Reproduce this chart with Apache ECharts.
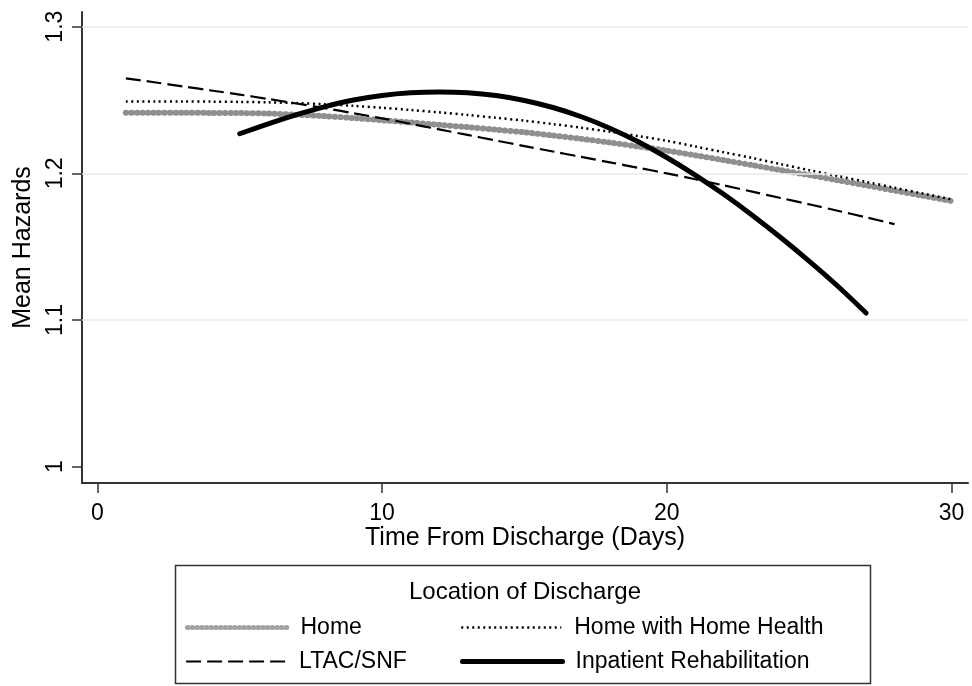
<!DOCTYPE html>
<html>
<head>
<meta charset="utf-8">
<script src="https://cdn.jsdelivr.net/npm/echarts@6/dist/echarts.min.js"></script>
<style>html,body{margin:0;padding:0;background:#fff;}#c{width:972px;height:686px;}</style>
</head>
<body>
<div id="c"></div>
<script>
// ---- data ----
const xTicks = [0, 10, 20, 30];
const yTicks = [1, 1.1, 1.2, 1.3];
const gridYs = [1.1, 1.2, 1.3];

const homeDays = [1,2,3,4,5,6,7,8,9,10,11,12,13,14,15,16,17,18,19,20,21,22,23,24,25,26,27,28,29,30];
const homeVals = [1.2413,1.2413,1.2413,1.2412,1.2411,1.2408,1.2400,1.2390,1.2377,1.2362,1.2347,1.2331,1.2315,1.2298,1.2280,1.2258,1.2235,1.2210,1.2183,1.2155,1.2123,1.2090,1.2056,1.2022,1.1988,1.1953,1.1918,1.1882,1.1847,1.1811];

const hhDays = [1,2,3,4,5,6,7,8,9,10,11,12,13,14,15,16,17,18,19,20,21,22,23,24,25,26,27,28,29,30];
const hhVals = [1.2490,1.2490,1.2490,1.2489,1.2487,1.2484,1.2479,1.2471,1.2460,1.2447,1.2432,1.2416,1.2398,1.2379,1.2359,1.2336,1.2311,1.2284,1.2254,1.2222,1.2183,1.2144,1.2105,1.2063,1.2022,1.1982,1.1942,1.1902,1.1862,1.1823];

const ltacDays = [1,2,3,4,5,6,7,8,9,10,11,12,13,14,15,16,17,18,19,20,21,22,23,24,25,26,27,28];
const ltacVals = [1.2648,1.2621,1.2593,1.2565,1.2537,1.2507,1.2476,1.2444,1.2410,1.2375,1.2338,1.2300,1.2262,1.2224,1.2186,1.2149,1.2112,1.2075,1.2038,1.2000,1.1960,1.1918,1.1875,1.1832,1.1789,1.1745,1.1700,1.1654];

const rehabDays = [5,6,7,8,9,10,11,12,13,14,15,16,17,18,19,20,21,22,23,24,25,26,27];
const rehabVals = [1.2270,1.2337,1.2400,1.2455,1.2500,1.2531,1.2549,1.2555,1.2550,1.2531,1.2497,1.2449,1.2386,1.2308,1.2215,1.2108,1.1988,1.1857,1.1715,1.1563,1.1402,1.1232,1.1048];

const seriesNames = ['Home', 'Home with Home Health', 'LTAC/SNF', 'Inpatient Rehabilitation'];
const legendTitle = 'Location of Discharge';
const xTitle = 'Time From Discharge (Days)';
const yTitle = 'Mean Hazards';

function pairs(xs, ys) { return xs.map((x, i) => [x, ys[i]]); }

const FONT = "'Liberation Sans', Arial, sans-serif";
const GRAY = '#8f8f8f';
const styles = [
  { color: GRAY, width: 6, type: [0.5, 5], cap: 'round' },
  { color: '#000', width: 2.5, type: [2, 3.5], cap: 'butt' },
  { color: '#000', width: 2.2, type: [15, 6], cap: 'butt' },
  { color: '#000', width: 5, type: 'solid', cap: 'round' }
];
const legendStyles = [
  { color: '#a3a3a3', width: 5, type: [0.5, 4.2], cap: 'round' },
  styles[1], styles[2], styles[3]
];

const chart = echarts.init(document.getElementById('c'));

function legendAt(i, left, top) {
  return {
    data: [seriesNames[i]], left: left, top: top, padding: 0, orient: 'horizontal',
    itemWidth: 100, itemHeight: 16, selectedMode: false,
    itemStyle: { opacity: 0, borderWidth: 0 },
    lineStyle: Object.assign({ opacity: 1 }, legendStyles[i]),
    textStyle: { fontFamily: FONT, fontSize: 23, color: '#000', padding: [0, 0, 0, 8] }
  };
}

chart.setOption({
  animation: false,
  backgroundColor: '#fff',
  grid: { left: 82, right: 4, top: 12, bottom: 203, containLabel: false },
  xAxis: {
    type: 'value', min: -0.54, max: 30.58,
    name: xTitle, nameLocation: 'middle', nameGap: 43, nameMoveOverlap: false,
    nameTextStyle: { fontFamily: FONT, fontSize: 25, color: '#000' },
    axisLine: { show: true, onZero: false, lineStyle: { color: '#333', width: 2 } },
    axisTick: { show: true, customValues: xTicks, length: 10, lineStyle: { color: '#333', width: 1.5 } },
    axisLabel: { customValues: xTicks, fontFamily: FONT, fontSize: 23, color: '#000', margin: 19 },
    splitLine: { show: false }
  },
  yAxis: {
    type: 'value', min: 0.9889, max: 1.31,
    name: yTitle, nameLocation: 'middle', nameGap: 46, nameRotate: 90, nameMoveOverlap: false,
    nameTextStyle: { fontFamily: FONT, fontSize: 25, color: '#000' },
    axisLine: { show: true, onZero: false, lineStyle: { color: '#333', width: 2 } },
    axisTick: { show: true, customValues: yTicks, length: 10, lineStyle: { color: '#333', width: 1.5 } },
    axisLabel: { customValues: yTicks, rotate: 90, fontFamily: FONT, fontSize: 23, color: '#000', margin: 15,
      formatter: v => String(Math.round(v * 10) / 10) },
    splitLine: { show: false }
  },
  legend: [
    legendAt(0, 185, 616),
    legendAt(1, 460, 616),
    legendAt(2, 185, 650),
    legendAt(3, 460, 650)
  ],
  graphic: [
    { type: 'rect', shape: { x: 175.5, y: 565.5, width: 695, height: 118 },
      style: { fill: 'none', stroke: '#333', lineWidth: 1.5 }, z: 0 },
    { type: 'text', x: 525, y: 592, style: { text: legendTitle, fontFamily: FONT, fontSize: 24, fill: '#000',
      textAlign: 'center', textVerticalAlign: 'middle' } }
  ],
  series: [
    { name: 'gridlines', type: 'line', data: [], silent: true, z: 1,
      markLine: { silent: true, symbol: ['none', 'none'], label: { show: false },
        lineStyle: { color: '#e3edf1', width: 1.5, type: 'solid' },
        data: gridYs.map(v => ({ yAxis: v })) } },
    { name: seriesNames[0], type: 'line', data: pairs(homeDays, homeVals), symbol: 'none', z: 3, smooth: 0.3,
      itemStyle: { color: GRAY }, lineStyle: styles[0] },
    { name: seriesNames[1], type: 'line', data: pairs(hhDays, hhVals), symbol: 'none', z: 4, smooth: 0.3,
      itemStyle: { color: '#000' }, lineStyle: styles[1] },
    { name: seriesNames[2], type: 'line', data: pairs(ltacDays, ltacVals), symbol: 'none', z: 5, smooth: 0.3,
      itemStyle: { color: '#000' }, lineStyle: styles[2] },
    { name: seriesNames[3], type: 'line', data: pairs(rehabDays, rehabVals), symbol: 'none', z: 6, smooth: 0.3,
      itemStyle: { color: '#000' }, lineStyle: styles[3] }
  ]
});
</script>
</body>
</html>
